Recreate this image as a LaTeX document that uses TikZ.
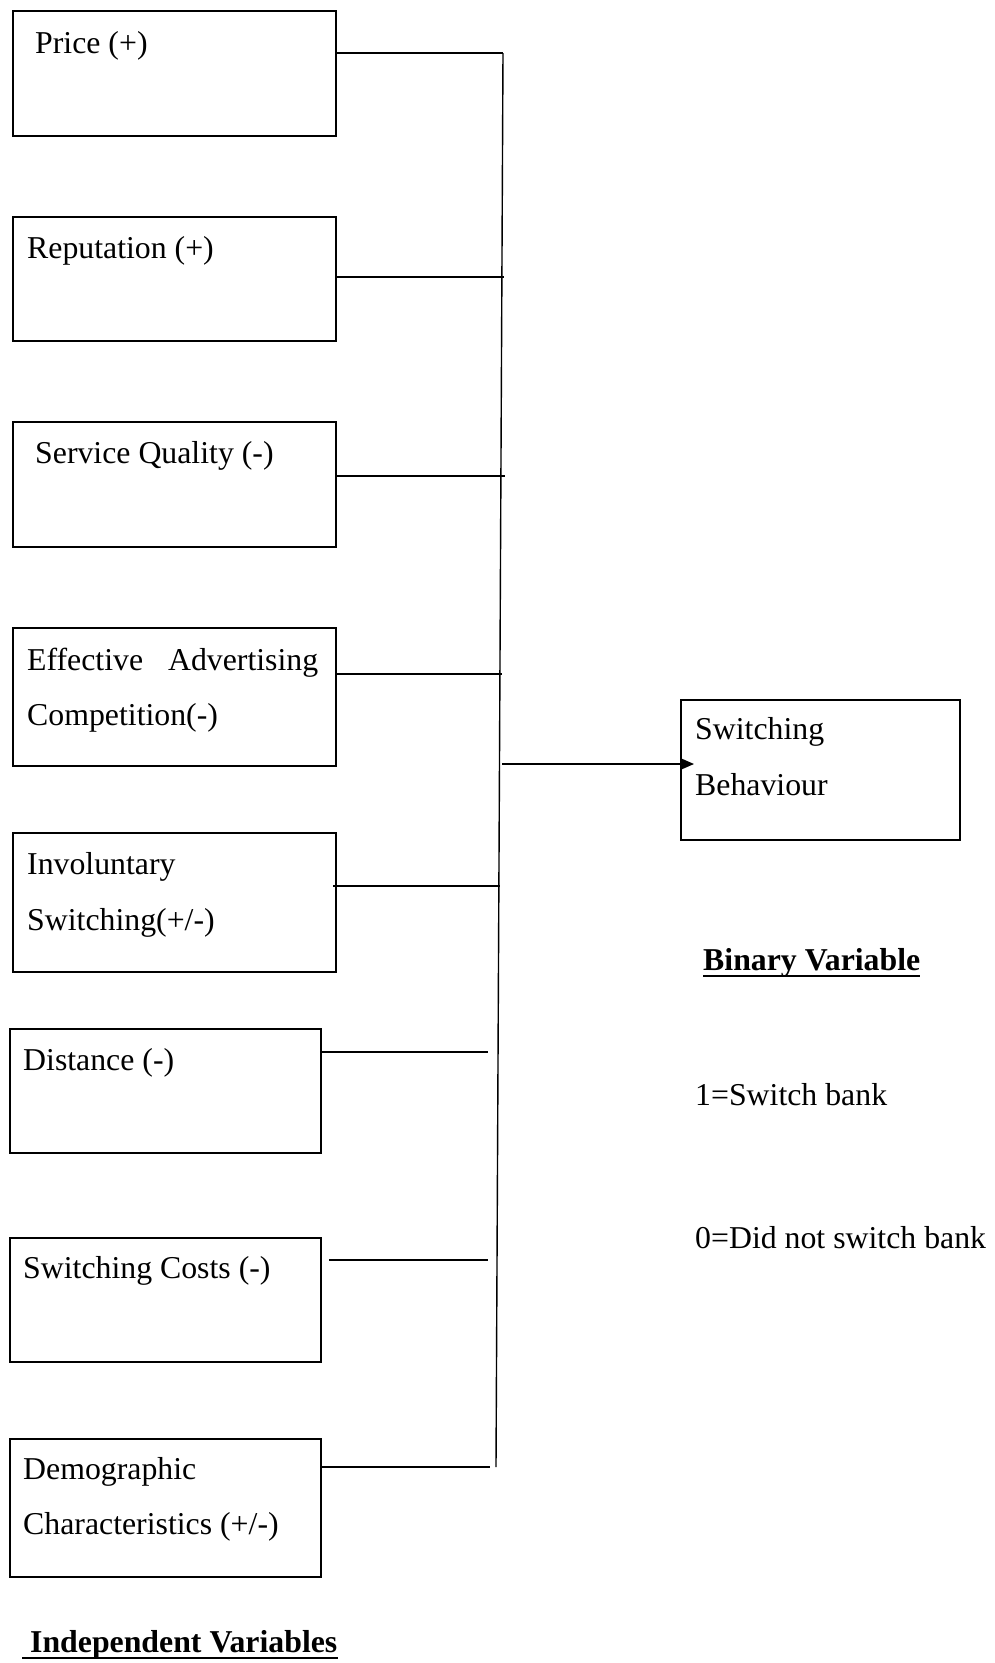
\documentclass[tikz,border=0pt]{standalone}
\usepackage{fontspec}
\setmainfont{Liberation Serif}
\usetikzlibrary{arrows.meta}
\begin{document}
\begin{tikzpicture}[x=1pt,y=-1pt,
  vbox/.style={draw, line width=2.2pt, rectangle, inner sep=0pt, anchor=north west},
  lbl/.style={inner sep=0pt, anchor=base west, font=\fontsize{31.8}{38}\selectfont},
  blbl/.style={lbl, font=\fontsize{31.8}{38}\selectfont\bfseries},
  conn/.style={line width=1.4pt},
  uline/.style={line width=2pt}]
\useasboundingbox (0,0) rectangle (994,1663);

% boxes
\node[vbox, minimum width=323pt, minimum height=125pt] (price) at (12,10) {};
\node[vbox, minimum width=323pt, minimum height=124pt] (rep) at (12,216) {};
\node[vbox, minimum width=323pt, minimum height=125pt] (sq) at (12,421) {};
\node[vbox, minimum width=323pt, minimum height=138pt] (eff) at (12,627) {};
\node[vbox, minimum width=323pt, minimum height=139pt] (inv) at (12,832) {};
\node[vbox, minimum width=311pt, minimum height=124pt] (dist) at (9,1028) {};
\node[vbox, minimum width=311pt, minimum height=124pt] (sc) at (9,1237) {};
\node[vbox, minimum width=311pt, minimum height=138pt] (demo) at (9,1438) {};
\node[vbox, minimum width=279pt, minimum height=140pt] (sb) at (680,699) {};

% labels
\node[lbl] (tprice) at (35,53) {Price (+)};
\node[lbl] (trep) at (27,258) {Reputation (+)};
\node[lbl] (tsq) at (35,463) {Service Quality (-)};
\node[lbl] (teff) at (27,670) {\vtop{\baselineskip=55pt\hbox to 291pt{Effective\hfill Advertising}\hbox{Competition(-)}}};
\node[lbl] (tinv) at (27,874) {\vtop{\baselineskip=56pt\hbox{Involuntary}\hbox{Switching(+/-)}}};
\node[lbl] (tdist) at (23,1070) {Distance (-)};
\node[lbl] (tsc) at (23,1278) {Switching Costs (-)};
\node[lbl] (tdemo) at (23,1479) {\vtop{\baselineskip=55pt\hbox{Demographic}\hbox{Characteristics (+/-)}}};
\node[lbl] (tsb) at (695,739) {\vtop{\baselineskip=56pt\hbox{Switching}\hbox{Behaviour}}};

\node[blbl] (bv) at (703,970) {Binary Variable};
\node[lbl] (one) at (695,1105) {1=Switch bank};
\node[lbl] (zero) at (695,1248) {0=Did not switch bank};
\node[blbl] (iv) at (22,1652) {\ Independent Variables};
\draw[uline] ([yshift=-6pt]bv.base west) -- ([yshift=-6pt]bv.base east);
\draw[uline] ([yshift=-6pt]iv.base west) -- ([yshift=-6pt]iv.base east);

% bus
\coordinate (btop) at (503,53);
\coordinate (bbot) at (496,1467);
\draw[conn] (btop) -- (bbot);

\coordinate (e1) at (503,53);
\coordinate (e2) at (504,277);
\coordinate (e3) at (505,476);
\coordinate (e4) at (502,674);
\coordinate (e5) at (500,886);
\coordinate (e6) at (488,1052);
\coordinate (e7) at (488,1260);
\coordinate (e8) at (490,1467);
\draw[conn] (price.east |- e1) -- (e1);
\draw[conn] (rep.east |- e2) -- (e2);
\draw[conn] (sq.east |- e3) -- (e3);
\draw[conn] ([xshift=-2pt]eff.east |- e4) -- (e4);
\draw[conn] ([xshift=-4pt]inv.east |- e5) -- (e5);
\draw[conn] (dist.east |- e6) -- (e6);
\draw[conn] ([xshift=7pt]sc.east |- e7) -- (e7);
\draw[conn] (demo.east |- e8) -- (e8);

% arrow
\coordinate (a0) at (502,764);
\draw[conn, -{Triangle[length=13pt,width=11pt]}, shorten >=-14pt] (a0) -- (sb.west |- a0);
\end{tikzpicture}
\end{document}
